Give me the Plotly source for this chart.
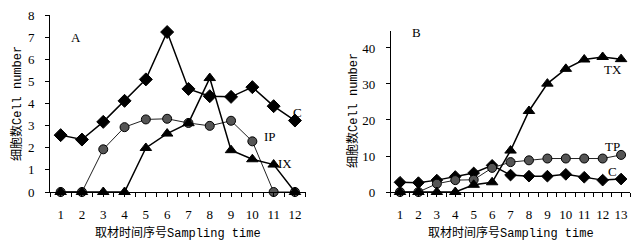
import plotly.graph_objects as go

# Panel A
xa = list(range(1, 13))
a_C = [2.57, 2.37, 3.17, 4.12, 5.09, 7.23, 4.66, 4.33, 4.30, 4.74, 3.88, 3.23]
a_IP = [0, 0, 1.93, 2.93, 3.28, 3.31, 3.12, 2.99, 3.22, 2.29, 0, 0]
a_IX = [0, 0, 0, 0, 1.99, 2.64, 3.11, 5.15, 1.89, 1.48, 1.24, 0]

# Panel B
xb = list(range(1, 14))
b_TX = [0, 0, 0, 0, 2.0, 2.7, 11.5, 22.5, 30.1, 34.2, 36.8, 37.5, 36.9]
b_TP = [0, 0, 2.3, 3.3, 3.4, 6.7, 8.3, 8.8, 9.3, 9.3, 9.3, 9.3, 10.3]
b_C = [2.7, 2.6, 3.3, 4.3, 5.3, 7.4, 4.7, 4.4, 4.4, 4.9, 4.1, 3.3, 3.6]

yticks_a = [0, 1, 2, 3, 4, 5, 6, 7, 8]
yticks_b = [0, 10, 20, 30, 40]

SERIF = "Liberation Serif"
MIX = "Liberation Mono, Noto Sans CJK SC"

# the page body has an 8px margin; work in page pixels and convert
OFF = 8.0
W = 639.0 - OFF
H = 245.0 - OFF

def px(x):
    return (x - OFF) / W

def py(y):
    return 1 - (y - OFF) / H

fig = go.Figure()

def add(x, y, sym, size, lw, xa_, ya_, mcolor="black", lcolor="black"):
    fig.add_trace(go.Scatter(
        x=x, y=y, mode="lines+markers", xaxis=xa_, yaxis=ya_,
        line=dict(color=lcolor, width=lw),
        marker=dict(symbol=sym, size=size, color=mcolor,
                    line=dict(color="black", width=1)),
        showlegend=False, cliponaxis=False))

add(xa, a_IP, "circle", 9, 1, "x", "y", mcolor="#555555", lcolor="#222222")
add(xa, a_IX, "triangle-up", 10, 1.5, "x", "y")
add(xa, a_C, "diamond", 10, 1.5, "x", "y")

add(xb, b_C, "diamond", 9, 1.5, "x2", "y2")
add(xb, b_TP, "circle", 9, 1, "x2", "y2", mcolor="#555555", lcolor="#222222")
add(xb, b_TX, "triangle-up", 10, 1.5, "x2", "y2")

def xaxis(dom, n, anchor):
    return dict(domain=dom, range=[0.5, n + 0.5], tickvals=list(range(1, n + 1)),
                anchor=anchor, automargin=False, ticklabeloverflow="allow",
                ticks="outside", ticklen=4, tickcolor="black", showline=True,
                linecolor="black", linewidth=1, showgrid=False, zeroline=False,
                tickfont=dict(family=SERIF, size=13, color="black"),
                ticklabelstandoff=6,
                minor=dict(ticks="outside", ticklen=4, tickcolor="black",
                           dtick=0.5, tick0=0.5, showgrid=False))

def yaxis(dom, rng, tv, anchor):
    return dict(domain=dom, range=rng, tickvals=tv, ticks="outside", ticklen=4,
                anchor=anchor, automargin=False, ticklabeloverflow="allow",
                tickcolor="black", showline=True, linecolor="black", linewidth=1,
                showgrid=False, zeroline=False,
                tickfont=dict(family=SERIF, size=13, color="black"),
                ticklabelstandoff=8)

fig.update_layout(
    width=int(W), height=int(H), margin=dict(l=0, r=0, t=0, b=0, autoexpand=False),
    paper_bgcolor="white", plot_bgcolor="white",
    xaxis=xaxis([px(50), px(305.6)], 12, "y"),
    yaxis=yaxis([py(192), py(15)], [0, 8.0001], yticks_a, "x"),
    xaxis2=xaxis([px(390.8), px(630.3)], 13, "y2"),
    yaxis2=yaxis([py(192), py(30.7)], [0, 44.8], yticks_b, "x2"),
)

def lab(text, x, y, xr, yr, size=13, fam=SERIF):
    fig.add_annotation(text=text, x=x, y=y, xref=xr, yref=yr, showarrow=False,
                       xanchor="center", yanchor="middle",
                       font=dict(family=fam, size=size, color="black"))

lab("A", 1.72, 7.0, "x", "y")
lab("C", 12.1, 3.6, "x", "y")
lab("IP", 10.83, 2.49, "x", "y")
lab("IX", 11.53, 1.31, "x", "y")
lab("B", 1.91, 44.2, "x2", "y2")
lab("TX", 12.56, 33.9, "x2", "y2")
lab("TP", 12.56, 12.5, "x2", "y2")
lab("C", 12.56, 5.6, "x2", "y2")

# axis titles
for cx in [177.5, 510.5]:
    fig.add_annotation(text="取材时间序号Sampling time", x=px(cx), y=py(233),
                       xref="paper", yref="paper", showarrow=False,
                       xanchor="center", yanchor="middle",
                       font=dict(family=MIX, size=12, color="black"))
for cx, cy in [(17, 104), (353, 111)]:
    fig.add_annotation(text="细胞数Cell number", x=px(cx), y=py(cy),
                       xref="paper", yref="paper", showarrow=False, textangle=-90,
                       xanchor="center", yanchor="middle",
                       font=dict(family=MIX, size=12, color="black"))

fig.write_html("out.html")
